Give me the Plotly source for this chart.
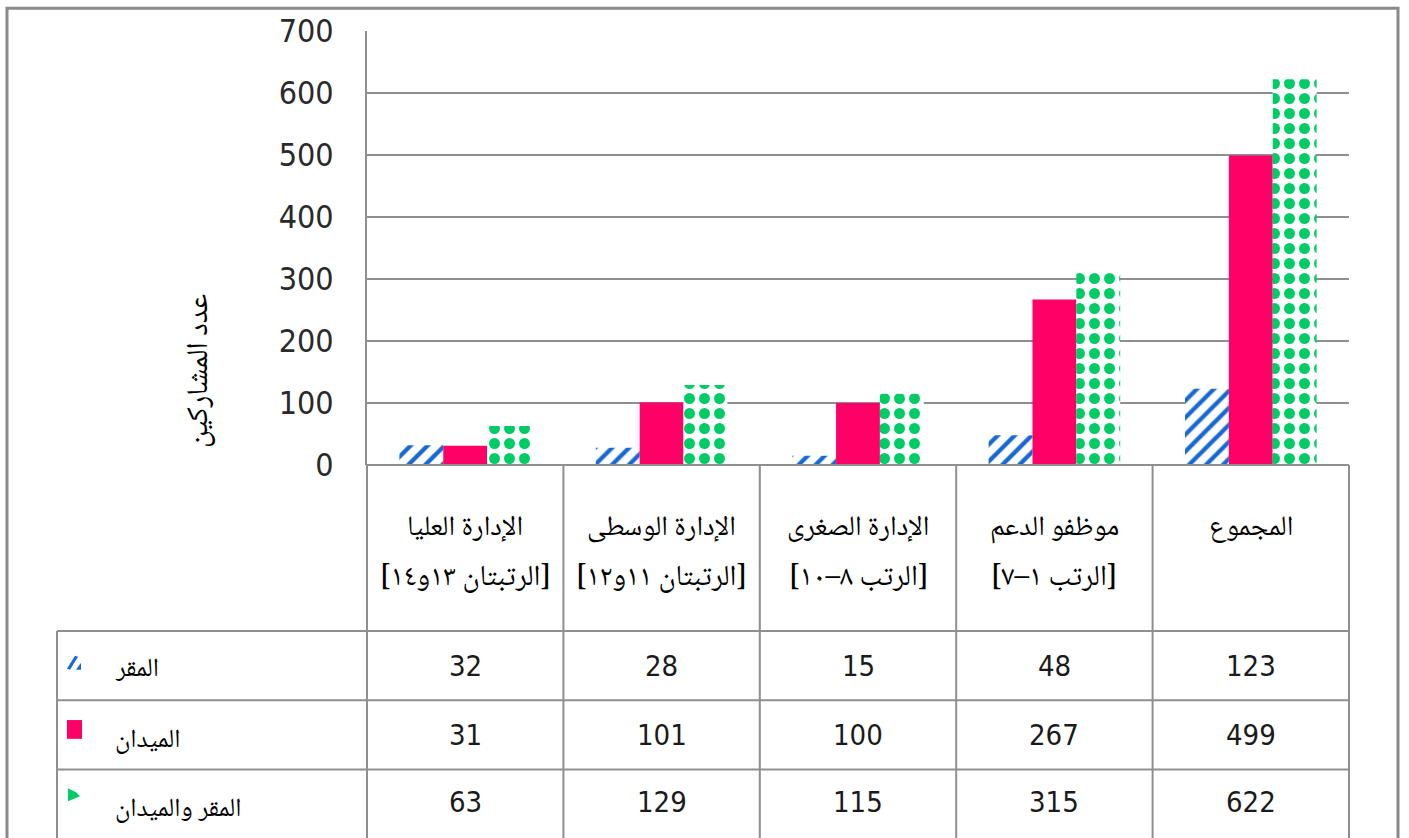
import plotly.graph_objects as go

# ---------------- data ----------------
categories = ["الإدارة العليا", "الإدارة الوسطى", "الإدارة الصغرى", "موظفو الدعم", "المجموع"]
category_sub = ["[الرتبتان ١٣و١٤]", "[الرتبتان ١١و١٢]", "[الرتب ٨–١٠]", "[الرتب ١–٧]", ""]
series_names = ["المقر", "الميدان", "المقر والميدان"]
hq_values = [32, 28, 15, 48, 123]
field_values = [31, 101, 100, 267, 499]
both_values = [63, 129, 115, 315, 622]
y_ticks = [0, 100, 200, 300, 400, 500, 600, 700]
y_title = "عدد المشاركين"

# ---------------- layout constants (pixels) ----------------
W, H = 1409, 838
PL, PR, PT, PB = 367, 1349, 26, 465   # plot area edges in pixels
GRID = "#8f8f8f"
AR_FONT = "Noto Naskh Arabic, Amiri, Traditional Arabic, DejaVu Sans, sans-serif"
NUM_FONT = "Liberation Sans Narrow, Arial Narrow, DejaVu Sans Condensed, sans-serif"


def px(x):
    return (x - PL) / (PR - PL)


def py(y):
    return (PB - y) / (PB - PT)


fig = go.Figure()
fig.add_trace(go.Bar(
    x=categories, y=hq_values, name=series_names[0],
    marker=dict(color="white", line=dict(width=0),
                pattern=dict(shape="/", fgcolor="#1668d2", bgcolor="white",
                             size=12, solidity=0.36, fillmode="replace")),
))
fig.add_trace(go.Bar(
    x=categories, y=field_values, name=series_names[1],
    marker=dict(color="#ff0066", line=dict(width=0)),
))
fig.add_trace(go.Bar(
    x=categories, y=both_values, name=series_names[2],
    marker=dict(color="white", line=dict(width=0),
                pattern=dict(shape=".", fgcolor="#00cc66", bgcolor="white",
                             size=15, solidity=0.42, fillmode="replace")),
))

shapes = []
line = dict(color=GRID, width=2)
n = len(categories)
row_lines = [633, 703, 773]
for i in range(n + 1):
    shapes.append(dict(type="line", xref="paper", yref="paper",
                       x0=i / n, x1=i / n, y0=py(PB), y1=py(845), line=line))
shapes.append(dict(type="line", xref="paper", yref="paper",
                   x0=0, x1=1, y0=0, y1=0, line=line))
for r in row_lines:
    shapes.append(dict(type="line", xref="paper", yref="paper",
                       x0=px(57), x1=1, y0=py(r), y1=py(r), line=line))
shapes.append(dict(type="line", xref="paper", yref="paper",
                   x0=px(57), x1=px(57), y0=py(633), y1=py(845), line=line))
# outer frame
shapes.append(dict(type="rect", xref="paper", yref="paper",
                   x0=px(7), x1=px(1398), y0=py(3), y1=py(860),
                   line=dict(color="#8a8a8a", width=3)))
# legend keys in the table
shapes.append(dict(type="path", xref="paper", yref="paper",
                   path="M %f,%f L %f,%f L %f,%f L %f,%f Z" % (
                       px(67), py(671), px(75), py(658), px(78), py(659), px(70), py(672)),
                   fillcolor="#1668d2", line=dict(width=0)))
shapes.append(dict(type="path", xref="paper", yref="paper",
                   path="M %f,%f L %f,%f L %f,%f Z" % (
                       px(76), py(672), px(81), py(665), px(81), py(672)),
                   fillcolor="#1668d2", line=dict(width=0)))
shapes.append(dict(type="rect", xref="paper", yref="paper",
                   x0=px(67), x1=px(82), y0=py(723), y1=py(742),
                   fillcolor="#ff0066", line=dict(width=0)))
shapes.append(dict(type="path", xref="paper", yref="paper",
                   path="M %f,%f L %f,%f L %f,%f L %f,%f Z" % (
                       px(68), py(792), px(76), py(796), px(80), py(800), px(68), py(805)),
                   fillcolor="#00cc66", line=dict(width=0)))

annotations = []
for c, sub in zip(categories, category_sub):
    annotations.append(dict(x=c, xref="x", y=py(530), yref="paper", text=c,
                            showarrow=False, xanchor="center", yanchor="middle",
                            font=dict(family=AR_FONT, size=28, color="#000")))
    if sub:
        annotations.append(dict(x=c, xref="x", y=py(580), yref="paper", text=sub,
                                showarrow=False, xanchor="center", yanchor="middle",
                                font=dict(family=AR_FONT, size=29, color="#000")))
row_centers = [668, 738, 806]
for vals, yc in zip([hq_values, field_values, both_values], row_centers):
    for c, v in zip(categories, vals):
        annotations.append(dict(x=c, xref="x", y=py(yc), yref="paper", text=str(v),
                                showarrow=False, xanchor="center", yanchor="middle",
                                font=dict(family=NUM_FONT, size=29, color="#1a1a1a")))
label_centers = [672, 744, 814]
for name, yc in zip(series_names, label_centers):
    annotations.append(dict(x=px(113), xref="paper", y=py(yc), yref="paper", text=name,
                            showarrow=False, xanchor="left", yanchor="middle",
                            font=dict(family=AR_FONT, size=26, color="#000")))
annotations.append(dict(x=px(200), xref="paper", y=py(370), yref="paper", text=y_title,
                        textangle=-90, showarrow=False, xanchor="center", yanchor="middle",
                        font=dict(family=AR_FONT, size=30, color="#000")))

fig.update_layout(
    width=W, height=H,
    margin=dict(l=PL, r=W - PR, t=PT, b=H - PB, pad=0),
    paper_bgcolor="white", plot_bgcolor="white",
    barmode="group", bargap=0.33, bargroupgap=0,
    showlegend=False,
    xaxis=dict(type="category", range=[-0.5, n - 0.5], showticklabels=False,
               showgrid=False, zeroline=False, showline=False, ticks=""),
    yaxis=dict(range=[0, 700], tickvals=y_ticks, showgrid=True, gridcolor=GRID,
               gridwidth=2, zeroline=False, showline=True, linecolor=GRID, linewidth=2,
               ticks="", ticklabelstandoff=25,
               tickfont=dict(family=NUM_FONT, size=32, color="#2a2a2a")),
    shapes=shapes, annotations=annotations,
)

fig.write_html(
    "out.html",
    config={"displayModeBar": False},
    post_script=("document.documentElement.style.margin='0';"
                 "document.documentElement.style.overflow='hidden';"
                 "document.body.style.margin='0';"
                 "document.body.style.overflow='hidden';"),
)
